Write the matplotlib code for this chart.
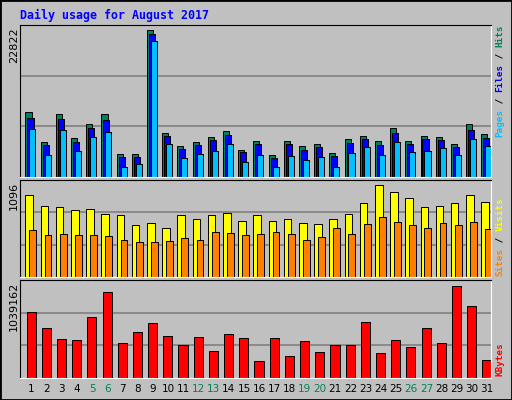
#!/usr/bin/env python3

import numpy as np
import matplotlib.pyplot as plt
from matplotlib.patches import Rectangle

days = np.arange(1, 32)
weekend = [5, 6, 12, 13, 19, 20, 26, 27]

hits = [10070, 5470, 9810, 6090, 8260, 9810, 3610, 3610, 22822, 6870, 4850, 5470, 6250,
        7180, 4230, 5630, 3460, 5630, 4850, 5160, 3770, 5940, 6400, 5630, 7640, 5630,
        6400, 6250, 5160, 8260, 6710]
files = [9190, 5010, 9040, 5470, 7640, 8880, 3150, 3150, 22050, 6400, 4390, 5010, 5780,
         6560, 3920, 5160, 2990, 5160, 4230, 4700, 3300, 5320, 5940, 5010, 6870, 5160,
         5940, 5780, 4700, 7330, 6090]
pages = [7490, 3460, 7330, 4080, 6250, 7020, 1600, 2070, 21120, 5160, 2990, 3610, 4080,
         5160, 2380, 3460, 1600, 3300, 2680, 3150, 1600, 3770, 4700, 3460, 5470, 3920,
         4080, 4540, 3460, 5940, 4850]

visits = [977, 846, 834, 798, 810, 751, 739, 619, 643, 584, 739, 691, 739, 762, 667, 739,
          667, 691, 643, 631, 691, 751, 882, 1096, 1013, 941, 834, 846, 882, 977, 894]
sites = [560, 500, 512, 500, 500, 488, 441, 417, 417, 429, 465, 441, 536, 524, 500, 512,
         536, 512, 441, 477, 584, 512, 631, 715, 655, 619, 584, 643, 619, 655, 572]

kbytes = [743300, 561300, 436100, 424800, 686500, 970900, 390600, 515800, 618200, 470300,
          367900, 458900, 299600, 493000, 447500, 197200, 447500, 254100, 413400, 288200,
          367900, 367900, 629600, 276900, 424800, 345100, 561300, 390600, 1039162, 811600,
          208600]

BG = "#C0C0C0"
GRID = "#808080"
W, H = 512, 400

fig = plt.figure(figsize=(W / 100, H / 100), dpi=100, facecolor=BG)
fig.add_artist(Rectangle((0, 0), 1, 1, transform=fig.transFigure, fill=False,
                         edgecolor="black", linewidth=2))

def panel(y0, y1):
    # pixel box -> axes
    ax = fig.add_axes([20 / W, 1 - y1 / H, 471 / W, (y1 - y0) / H])
    ax.set_facecolor(BG)
    ax.set_xlim(0.5, 31.5)
    ax.set_xticks([])
    ax.set_yticks([])
    for s in ax.spines.values():
        s.set_color("white")
    ax.spines["top"].set_color("black")
    ax.spines["left"].set_color("black")
    return ax

def grid_lines(ax, top):
    for f in (1 / 3, 2 / 3):
        ax.axhline(top * f, color=GRID, linewidth=1.2, zorder=0)

def side_label(y_bottom, parts):
    # parts drawn bottom-to-top, rotated
    cw = 5.6
    pos = y_bottom
    for txt, col in parts:
        fig.text(500 / W, 1 - pos / H, txt, rotation=90, color=col, ha="center",
                 va="bottom", family="DejaVu Sans Mono", fontsize=6.7, fontweight="bold")
        pos -= cw * len(txt)

fig.text(20 / W, 1 - 15 / H, "Daily usage for August 2017", color="#0000FF",
         family="DejaVu Sans Mono", fontweight="bold", fontsize=8.4, va="center")

ec = dict(edgecolor="black", linewidth=0.7)

# hits / files / pages
ax1 = panel(25, 177)
top1 = 22822 * 152 / 147.5
ax1.set_ylim(0, top1)
grid_lines(ax1, top1)
ax1.bar(days - 0.14, hits, width=0.4, align="edge", color="#00805C", **ec)
ax1.bar(days - 0.01, files, width=0.4, align="edge", color="#0000FF", **ec)
ax1.bar(days + 0.12, pages, width=0.4, align="edge", color="#00C0FF", **ec)
fig.text(14 / W, 1 - 27 / H, "22822", rotation=90, va="top", ha="center", fontsize=8)
side_label(137, [("Pages", "#00C0FF"), (" / ", "#000000"), ("Files", "#0000FF"),
                 (" / ", "#000000"), ("Hits", "#00805C")])

# visits / sites
ax2 = panel(180, 277)
top2 = 1096 * 97 / 92
ax2.set_ylim(0, top2)
grid_lines(ax2, top2)
ax2.bar(days - 0.14, visits, width=0.5, align="edge", color="#FFFF00", **ec)
ax2.bar(days + 0.12, sites, width=0.45, align="edge", color="#FF8000", **ec)
fig.text(14 / W, 1 - 182 / H, "1096", rotation=90, va="top", ha="center", fontsize=8)
side_label(276, [("Sites", "#FF8000"), (" / ", "#000000"), ("Visits", "#FFFF00")])

# kbytes
ax3 = panel(280, 378)
top3 = 1039162 * 98 / 92
ax3.set_ylim(0, top3)
grid_lines(ax3, top3)
ax3.bar(days - 0.07, kbytes, width=0.6, align="edge", color="#FF0000", **ec)
fig.text(14 / W, 1 - 282 / H, "1039162", rotation=90, va="top", ha="center", fontsize=8)
side_label(376, [("KBytes", "#FF0000")])

# day labels
for d in days:
    x = 20 + (d - 0.5 + 0.25) * 471 / 31
    col = "#00805C" if d in weekend else "black"
    fig.text(x / W, 1 - 389 / H, str(d), color=col, ha="center", va="center", fontsize=7.5)

fig.savefig("out.png", dpi=100, facecolor=BG)
